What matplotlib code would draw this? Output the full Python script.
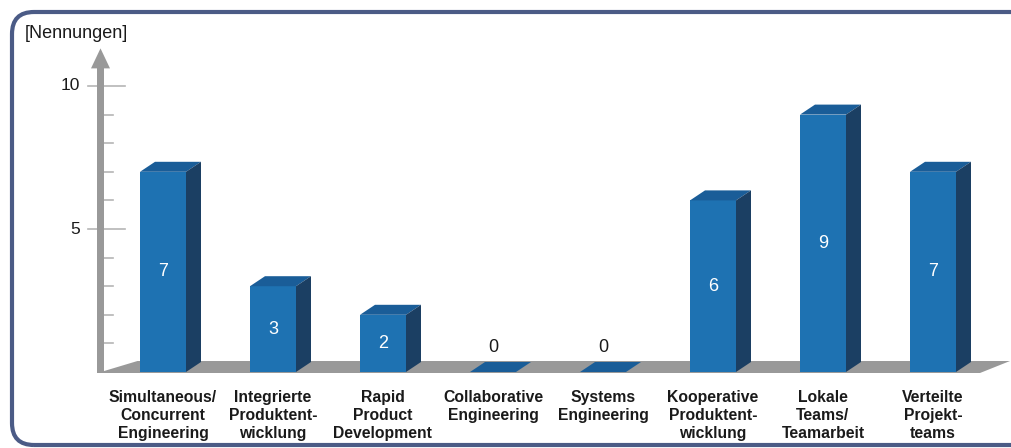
import matplotlib.pyplot as plt
import numpy as np
from matplotlib.patches import Polygon, FancyBboxPatch, FancyArrow

categories = ['Simultaneous/\nConcurrent\nEngineering',
              'Integrierte\nProduktent-\nwicklung',
              'Rapid\nProduct\nDevelopment',
              'Collaborative\nEngineering',
              'Systems\nEngineering',
              'Kooperative\nProduktent-\nwicklung',
              'Lokale\nTeams/\nTeamarbeit',
              'Verteilte\nProjekt-\nteams']
values = [7, 3, 2, 0, 0, 6, 9, 7]
major_ticks = [5, 10]
minor_ticks = [1, 2, 3, 4, 6, 7, 8, 9]
y_label = '[Nennungen]'

front_color = '#1e72b2'
side_color = '#1b3f63'
top_color = '#1a5d98'
floor_color = '#999999'
axis_color = '#999999'
tick_color = '#b5b5b5'
text_color = '#1a1a1a'

plt.rcParams['font.family'] = ['Liberation Sans', 'DejaVu Sans']

W, H = 1012, 448
fig = plt.figure(figsize=(W / 100, H / 100), dpi=100)
ax = fig.add_axes([0, 0, 1, 1])
ax.axis('off')

# pixel layout: category i centred at x = 163 + 110*i, value 0 at 76 px from bottom
px_x, px_y = 110.0, 28.6
x0, y0 = 163.0, 76.0
ax.set_xlim(-x0 / px_x, (W - x0) / px_x)
ax.set_ylim(-y0 / px_y, (H - y0) / px_y)

bar_w = 46 / px_x
dx, dy = 15 / px_x, 10 / px_y          # depth of bars
fdx, fdy = 30 / px_x, 11 / px_y        # depth of floor
axis_x = -62.5 / px_x

# frame around the chart
frame = FancyBboxPatch((12, 3), 1060, 433, boxstyle='round,pad=0,rounding_size=22',
                       transform=None, fill=False, ec='#4b5b86', lw=3, zorder=0)
fig.patches.append(frame)

# floor
x_idx = np.arange(len(values))
fl_left, fl_right = axis_x - 3 / px_x, x_idx[-1] + 47 / px_x
ax.add_patch(Polygon([(fl_left, -1 / px_y), (fl_right, -1 / px_y), (fl_right + fdx, fdy),
                      (fl_left + fdx + 10 / px_x, fdy)],
                     closed=True, fc=floor_color, ec='none', zorder=1))

# y axis with arrow
ax.add_patch(FancyArrow(axis_x, -1 / px_y, 0, 11.35, width=7 / px_x, head_width=19 / px_x,
                        head_length=20 / px_y, length_includes_head=True,
                        fc=axis_color, ec='none', zorder=2))
for t in major_ticks:
    ax.plot([axis_x - 12 / px_x, axis_x + 24 / px_x], [t, t], color=tick_color, lw=1.2, zorder=1)
    ax.text(axis_x - 20 / px_x, t, str(t), ha='right', va='center', fontsize=12.5,
            color=text_color)
for t in minor_ticks:
    ax.plot([axis_x, axis_x + 12 / px_x], [t, t], color=tick_color, lw=1.2, zorder=1)
ax.text(-138 / px_x, (H - 34 - y0) / px_y, y_label, ha='left', va='center',
        fontsize=13, color=text_color)

# bars: front face via ax.bar, side and top faces as polygons
bars = ax.bar(x_idx, values, width=bar_w, color=front_color, zorder=3)
for b, v in zip(bars, values):
    xl, xr = b.get_x(), b.get_x() + b.get_width()
    top = [(xl, v), (xr, v), (xr + dx, v + dy), (xl + dx, v + dy)]
    ax.add_patch(Polygon(top, closed=True, fc=top_color, ec='none', zorder=3))
    if v > 0:
        side = [(xr, 0), (xr + dx, dy), (xr + dx, v + dy), (xr, v)]
        ax.add_patch(Polygon(side, closed=True, fc=side_color, ec='none', zorder=3))
        ax.text(b.get_x() + b.get_width() / 2, v / 2, str(v), ha='center', va='center',
                color='white', fontsize=13, zorder=4)
    else:
        ax.text(b.get_x() + b.get_width() / 2, 0.85, str(v), ha='center', va='center',
                color=text_color, fontsize=13, zorder=4)

for i, c in enumerate(categories):
    ax.text(i, -18 / px_y, c, ha='center', va='top', fontsize=11.3,
            fontweight='bold', color=text_color, linespacing=1.27)

fig.savefig('out.png', dpi=100)
